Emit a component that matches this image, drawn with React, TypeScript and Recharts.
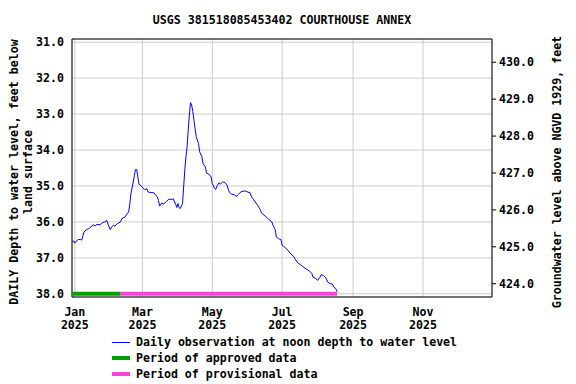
import {
  LineChart,
  Line,
  XAxis,
  YAxis,
  CartesianGrid,
  ReferenceArea,
} from "recharts";

const FONT = '"DejaVu Sans Mono", monospace';
const TITLE = "USGS 381518085453402 COURTHOUSE ANNEX";

// days since 2025-01-01 and daily depth to water, feet below land surface
const obsDay = [
  -3, -1, 0, 2, 3, 5, 6, 8, 10, 12, 14, 16, 18, 19, 22, 24, 26, 28, 29, 31,
  32, 34, 35, 37, 40, 41, 44, 45, 47, 48, 49, 51, 52, 53, 54, 55, 56, 58, 59,
  61, 63, 64, 66, 69, 70, 72, 73, 74, 76, 77, 79, 80, 82, 85, 86, 88, 89, 90,
  91, 92, 94, 95, 96, 97, 98, 99, 100, 101, 102, 103, 104, 105, 106, 108, 109,
  111, 112, 114, 115, 117, 119, 120, 122, 123, 124, 126, 127, 129, 131, 133,
  134, 135, 137, 139, 141, 143, 144, 146, 149, 151, 153, 154, 156, 159, 162,
  163, 166, 169, 172, 173, 175, 176, 178, 180, 181, 183, 185, 188, 191, 192,
  195, 197, 199, 202, 205, 207, 208, 210, 212, 214, 215, 217, 219, 221, 223,
  225, 226, 228, 229,
];
const depthFt = [
  36.56, 36.53, 36.59, 36.51, 36.49, 36.49, 36.51, 36.28, 36.22, 36.19, 36.14,
  36.08, 36.11, 36.07, 36.08, 36.02, 36.0, 35.96, 36.07, 36.22, 36.14, 36.09,
  36.12, 36.05, 36.0, 35.91, 35.86, 35.8, 35.72, 35.49, 35.21, 34.89, 34.7,
  34.54, 34.54, 34.75, 34.95, 35.0, 35.04, 35.1, 35.08, 35.17, 35.18, 35.19,
  35.24, 35.3, 35.4, 35.56, 35.47, 35.51, 35.46, 35.43, 35.37, 35.37, 35.36,
  35.51, 35.6, 35.49, 35.6, 35.63, 35.49, 35.03, 34.56, 34.19, 33.91, 33.45,
  33.03, 32.68, 32.75, 32.93, 33.17, 33.4, 33.63, 33.82, 34.05, 34.19, 34.38,
  34.47, 34.64, 34.67, 34.75, 34.93, 35.07, 35.1, 35.01, 34.91, 34.95, 34.89,
  34.9, 34.98, 35.1, 35.18, 35.23, 35.24, 35.29, 35.23, 35.19, 35.15, 35.14,
  35.17, 35.19, 35.28, 35.38, 35.51, 35.66, 35.75, 35.83, 35.92, 36.0, 36.09,
  36.22, 36.42, 36.47, 36.49, 36.65, 36.7, 36.75, 36.87, 36.96, 37.02, 37.15,
  37.19, 37.24, 37.31, 37.37, 37.44, 37.54, 37.56, 37.63, 37.54, 37.47, 37.49,
  37.55, 37.68, 37.72, 37.73, 37.81, 37.86, 37.94,
];

// data-quality periods, drawn along the 38.0 ft line
const approvedDays = [-2.5, 40];
const provisionalDays = [40, 229];
const periodDepth = 38.0;

const monthTicks = [0, 59, 120, 181, 243, 304];
const monthLabels = ["Jan", "Mar", "May", "Jul", "Sep", "Nov"];
const yearLabel = "2025";
const depthTicks = [31, 32, 33, 34, 35, 36, 37, 38];
const elevTicks = [424, 425, 426, 427, 428, 429, 430];

const xDomain: [number, number] = [-2.5, 364.3];
const depthDomain: [number, number] = [30.91, 38.09];
const elevDomain: [number, number] = [423.64, 430.63];

const obsData = obsDay.map((d, i) => ({ day: d, depth: depthFt[i] }));
const approvedData = approvedDays.map((d) => ({ day: d, depth: periodDepth }));
const provisionalData = provisionalDays.map((d) => ({ day: d, depth: periodDepth }));

const textStyle = { fontFamily: FONT, fontSize: 11.6, fontWeight: 700, fill: "#000" };

function MonthTick({ x, y, payload }: any) {
  const i = monthTicks.indexOf(payload.value);
  return (
    <text x={x} y={y} textAnchor="middle" style={textStyle}>
      <tspan x={x} dy={17}>{monthLabels[i]}</tspan>
      <tspan x={x} dy={13}>{yearLabel}</tspan>
    </text>
  );
}

function LeftTitle({ viewBox }: any) {
  const cy = viewBox.y + viewBox.height / 2 + 4;
  const bx = 18;
  return (
    <text transform={`rotate(-90 ${bx} ${cy})`} x={bx} y={cy} textAnchor="middle" style={textStyle}>
      <tspan x={bx} dy={0}>DAILY Depth to water level, feet below</tspan>
      <tspan x={bx} dy={14}>land surface</tspan>
    </text>
  );
}

function RightTitle({ viewBox }: any) {
  const cy = viewBox.y + viewBox.height / 2 + 4;
  const bx = 561;
  return (
    <text transform={`rotate(-90 ${bx} ${cy})`} x={bx} y={cy} textAnchor="middle" style={textStyle}>
      Groundwater level above NGVD 1929, feet
    </text>
  );
}

const legendRows = [
  { label: "Daily observation at noon depth to water level", color: "#0000ff", h: 1 },
  { label: "Period of approved data", color: "#00a000", h: 4 },
  { label: "Period of provisional data", color: "#f346d9", h: 4 },
];

export default function App() {
  return (
    <div
      style={{
        position: "absolute",
        left: 0,
        top: 0,
        width: 576,
        height: 384,
        background: "#fff",
        fontFamily: FONT,
      }}
    >
      <div
        style={{
          position: "absolute",
          left: 72,
          width: 420,
          top: 13,
          textAlign: "center",
          fontSize: 11.6,
          fontWeight: 700,
        }}
      >
        {TITLE}
      </div>
      <LineChart width={576} height={384} margin={{ top: 39, right: 0, bottom: 0, left: 0 }}>
        <CartesianGrid yAxisId="left" stroke="#cccccc" strokeWidth={1} />
        <XAxis
          dataKey="day"
          type="number"
          domain={xDomain}
          allowDataOverflow
          ticks={monthTicks}
          height={87}
          axisLine={false}
          tickLine={false}
          tickSize={0}
          tick={<MonthTick />}
          interval={0}
        />
        <YAxis
          yAxisId="left"
          type="number"
          domain={depthDomain}
          allowDataOverflow
          reversed
          ticks={depthTicks}
          width={72}
          axisLine={false}
          tickLine={false}
          tickSize={0}
          tickMargin={8}
          interval={0}
          tickFormatter={(v: number) => v.toFixed(1)}
          tick={textStyle}
          label={{ content: <LeftTitle /> }}
        />
        <YAxis
          yAxisId="right"
          orientation="right"
          type="number"
          domain={elevDomain}
          allowDataOverflow
          ticks={elevTicks}
          width={84}
          axisLine={false}
          tickLine={{ stroke: "#000" }}
          tickSize={4}
          tickMargin={3}
          interval={0}
          tickFormatter={(v: number) => v.toFixed(1)}
          tick={{ ...textStyle, textAnchor: "start" }}
          label={{ content: <RightTitle /> }}
        />
        <Line
          yAxisId="left"
          data={obsData}
          dataKey="depth"
          type="linear"
          stroke="#0000ff"
          strokeWidth={1}
          dot={false}
          isAnimationActive={false}
        />
        <Line
          yAxisId="left"
          data={approvedData}
          dataKey="depth"
          type="linear"
          stroke="#00a000"
          strokeWidth={4}
          dot={false}
          isAnimationActive={false}
        />
        <Line
          yAxisId="left"
          data={provisionalData}
          dataKey="depth"
          type="linear"
          stroke="#f346d9"
          strokeWidth={4}
          dot={false}
          isAnimationActive={false}
        />
        <ReferenceArea
          yAxisId="left"
          x1={xDomain[0]}
          x2={xDomain[1]}
          y1={depthDomain[0]}
          y2={depthDomain[1]}
          fill="none"
          stroke="#000"
          strokeWidth={1}
        />
      </LineChart>
      <div style={{ position: "absolute", left: 112, top: 334 }}>
        {legendRows.map((r) => (
          <div key={r.label} style={{ display: "flex", alignItems: "center", height: 16 }}>
            <span style={{ display: "inline-block", width: 18, height: r.h, background: r.color }} />
            <span style={{ marginLeft: 6, fontSize: 11.6, fontWeight: 700, whiteSpace: "pre" }}>
              {r.label}
            </span>
          </div>
        ))}
      </div>
    </div>
  );
}
